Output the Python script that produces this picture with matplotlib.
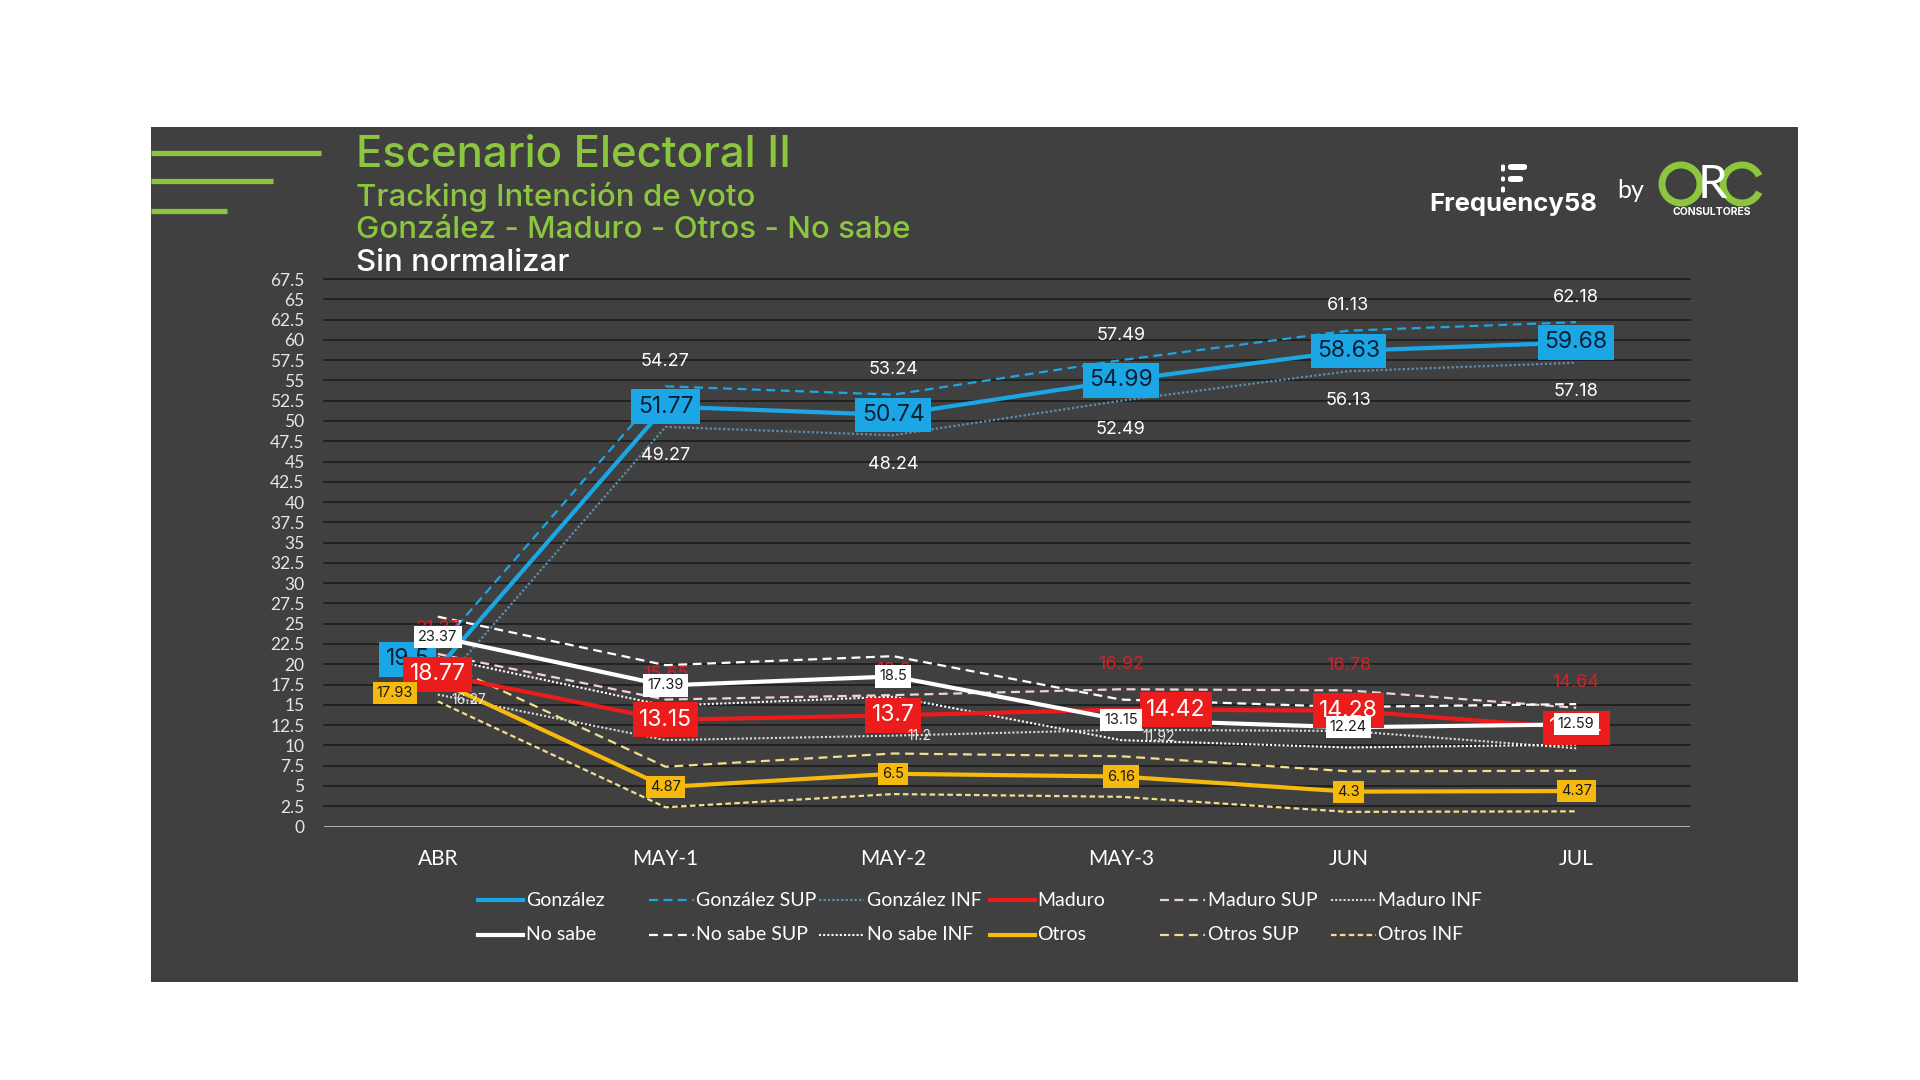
import matplotlib.pyplot as plt
import matplotlib.patches as mpatches
from matplotlib.lines import Line2D

# ---- data ----
categories = ['ABR', 'MAY-1', 'MAY-2', 'MAY-3', 'JUN', 'JUL']

gonzalez = [19.5, 51.77, 50.74, 54.99, 58.63, 59.68]
gonzalez_sup = [22.0, 54.27, 53.24, 57.49, 61.13, 62.18]
gonzalez_inf = [17.0, 49.27, 48.24, 52.49, 56.13, 57.18]

maduro = [18.77, 13.15, 13.7, 14.42, 14.28, 12.14]
maduro_sup = [21.27, 15.65, 16.2, 16.92, 16.78, 14.64]
maduro_inf = [16.27, 10.65, 11.2, 11.92, 11.78, 9.64]

no_sabe = [23.37, 17.39, 18.5, 13.15, 12.24, 12.59]
no_sabe_sup = [25.87, 19.89, 21.0, 15.65, 14.74, 15.09]
no_sabe_inf = [20.87, 14.89, 16.0, 10.65, 9.74, 10.09]

otros = [17.93, 4.87, 6.5, 6.16, 4.3, 4.37]
otros_sup = [20.43, 7.37, 9.0, 8.66, 6.8, 6.87]
otros_inf = [15.43, 2.37, 4.0, 3.66, 1.8, 1.87]

# which INF labels of Maduro are visible in the original
maduro_inf_shown = [True, False, True, True, False, False]

# ---- colours ----
BG = '#404040'
GREEN = '#8cc63f'
BLUE = '#1ba7e6'
RED = '#ec1c1c'
GOLD = '#f6b90d'
PALE = '#f1df8e'

FONT = ['Inter', 'DejaVu Sans']
TICKFONT = ['Lato', 'DejaVu Sans']

W, H = 1920, 1080


def fx(px):
    return px / W


def fy(py):
    return 1 - py / H


fig = plt.figure(figsize=(19.2, 10.8), dpi=100, facecolor='white')

# dark panel
fig.add_artist(mpatches.Rectangle((fx(151), fy(982)), fx(1798) - fx(151), fy(127) - fy(982),
                                  transform=fig.transFigure, fc=BG, ec='none', zorder=0))

# decorative green bars
for y, x1 in [(153, 321), (181, 273), (211, 227)]:
    fig.add_artist(Line2D([fx(151), fx(x1)], [fy(y), fy(y)], color=GREEN, lw=3.8,
                          transform=fig.transFigure, solid_capstyle='butt'))

# titles
fig.text(fx(356), fy(156), 'Escenario Electoral II', color=GREEN, fontsize=31.5, fontweight='medium',
         family=FONT, va='center')
fig.text(fx(356), fy(197), 'Tracking Intención de voto', color=GREEN, fontsize=22.5, fontweight='medium',
         family=FONT, va='center')
fig.text(fx(356), fy(230), 'González - Maduro - Otros - No sabe', color=GREEN, fontsize=22.5,
         fontweight='medium', family=FONT, va='center')
fig.text(fx(356), fy(263), 'Sin normalizar', color='white', fontsize=22.5, fontweight='medium',
         family=FONT, va='center')

# logo: Frequency58 by ORC
fig.text(fx(1513), fy(204), 'Frequency58', color='white', fontsize=18.5, fontweight='bold',
         family=FONT, ha='center', va='center')
for (x0, y0, w, h) in [(1508, 164, 19, 6), (1508, 176, 15, 6), (1501, 164, 4, 8), (1501, 176, 4, 6), (1501, 186, 4, 7)]:
    fig.add_artist(mpatches.FancyBboxPatch((fx(x0), fy(y0 + h)), fx(w), h / H,
                                           boxstyle='round,pad=0,rounding_size=0.002',
                                           transform=fig.transFigure, fc='white', ec='none'))
fig.text(fx(1631), fy(190), 'by', color='white', fontsize=18, family=TICKFONT, ha='center', va='center')
fig.add_artist(mpatches.Ellipse((fx(1681), fy(184)), 38 / W, 38 / H, transform=fig.transFigure,
                                fc='none', ec=GREEN, lw=5))
fig.text(fx(1712), fy(185), 'R', color='white', fontsize=34, family=TICKFONT, ha='center', va='center')
fig.add_artist(mpatches.Arc((fx(1742), fy(184)), 38 / W, 38 / H, theta1=40, theta2=320,
                            transform=fig.transFigure, color=GREEN, lw=5))
fig.text(fx(1712), fy(212), 'CONSULTORES', color='white', fontsize=7.5, fontweight='bold',
         family=FONT, ha='center', va='center')

# ---- axes ----
ax = fig.add_axes([fx(324), fy(826.5), fx(1690) - fx(324), fy(279) - fy(826.5)])
ax.set_facecolor('none')
x = list(range(len(categories)))
ax.set_xlim(-0.5, 5.5)
ax.set_ylim(0, 67.5)
yt = [i * 2.5 for i in range(28)]
ax.set_yticks(yt)
ax.set_yticklabels(['%g' % v for v in yt], family=TICKFONT, fontsize=12.5, color='#e6e6e6')
ax.set_xticks(x)
ax.set_xticklabels(categories, family=TICKFONT, fontsize=15, color='white')
ax.tick_params(axis='both', length=0)
ax.tick_params(axis='y', pad=14)
ax.tick_params(axis='x', pad=16)
for s in ax.spines.values():
    s.set_visible(False)
for v in yt[1:]:
    ax.axhline(v, color='#1c1c1c', lw=1.2, zorder=1, clip_on=False)
ax.axhline(0, color='#d0d0d0', lw=1.8, zorder=1)

series = [
    ('González', gonzalez, dict(color=BLUE, lw=3, ls='-')),
    ('González SUP', gonzalez_sup, dict(color=BLUE, lw=1.6, ls=(0, (4, 2.5)))),
    ('González INF', gonzalez_inf, dict(color='#5f8fae', lw=1.6, ls=(0, (1, 1)))),
    ('Maduro', maduro, dict(color=RED, lw=3, ls='-')),
    ('Maduro SUP', maduro_sup, dict(color='#f2d2d2', lw=1.6, ls=(0, (4, 2.5)))),
    ('Maduro INF', maduro_inf, dict(color='#dcdcdc', lw=1.5, ls=(0, (1, 1)))),
    ('No sabe', no_sabe, dict(color='white', lw=3, ls='-')),
    ('No sabe SUP', no_sabe_sup, dict(color='white', lw=1.6, ls=(0, (4, 2.5)))),
    ('No sabe INF', no_sabe_inf, dict(color='white', lw=1.5, ls=(0, (1, 1)))),
    ('Otros', otros, dict(color=GOLD, lw=3, ls='-')),
    ('Otros SUP', otros_sup, dict(color=PALE, lw=1.6, ls=(0, (4, 2.5)))),
    ('Otros INF', otros_inf, dict(color=PALE, lw=1.6, ls=(0, (2.5, 1.5)))),
]

for name, vals, st in series:
    z = 3 if st['ls'] == '-' else 2
    ax.plot(x, vals, zorder=z, **st)


def px2pt(p):
    return p * 72 / 100


def boxlabel(xi, v, fc, tc, fs, dx=0, dy=0, z=5):
    ax.annotate('%g' % v, (xi, v), xytext=(px2pt(dx), px2pt(dy)), textcoords='offset points',
                ha='center', va='center', fontsize=fs, color=tc, family=FONT, zorder=z,
                bbox=dict(boxstyle='square,pad=0.28', fc=fc, ec='none'))


def plainlabel(xi, v, tc, fs, dx=0, dy=0, ha='center', z=4):
    ax.annotate('%g' % v, (xi, v), xytext=(px2pt(dx), px2pt(dy)), textcoords='offset points',
                ha=ha, va='center', fontsize=fs, color=tc, family=FONT, zorder=z)


# González
g_off = [(-30, 9), (0, 0), (0, 0), (0, 0), (0, 0), (0, 0)]
for i in x:
    boxlabel(i, gonzalez[i], BLUE, '#0b1f33', 16.5, *g_off[i], z=5)
    if i > 0:
        plainlabel(i, gonzalez_sup[i], 'white', 13, dy=25)
        plainlabel(i, gonzalez_inf[i], 'white', 13, dy=-29)

# Maduro SUP (red text) and INF (small white)
inf_off = [(14, -5), (14, 0), (14, 0), (22, -7), (14, 0), (14, 0)]
for i in x:
    plainlabel(i, maduro_sup[i], '#d42027', 13, dy=25, z=4)
    if maduro_inf_shown[i]:
        plainlabel(i, maduro_inf[i], '#e8e8e8', 10, *inf_off[i], ha='left', z=9)

# Maduro
m_off = [(0, 0), (0, 0), (0, 0), (55, 0), (0, 0), (0, 0)]
for i in x:
    boxlabel(i, maduro[i], RED, 'white', 16.5, *m_off[i], z=6)

# Otros
o_off = [(-43, -12), (0, 0), (0, 0), (0, 0), (0, 0), (0, 0)]
for i in x:
    boxlabel(i, otros[i], GOLD, '#1a1a1a', 10.5, *o_off[i], z=7)

# No sabe
for i in x:
    boxlabel(i, no_sabe[i], 'white', '#1a1a1a', 10.5, z=8)

# ---- legend (equal column widths as in the original) ----
for k, (name, vals, st) in enumerate(series):
    row, col = divmod(k, 6)
    x0 = 478 + 170.5 * col
    y0 = 900 + 35 * row
    fig.add_artist(Line2D([fx(x0), fx(x0 + 45)], [fy(y0), fy(y0)], transform=fig.transFigure,
                          color=st['color'], lw=st['lw'], ls=st['ls']))
    fig.text(fx(x0 + 48), fy(y0), name, color='white', fontsize=14, family=TICKFONT, va='center')

fig.savefig('out.png', dpi=100, facecolor='white')
